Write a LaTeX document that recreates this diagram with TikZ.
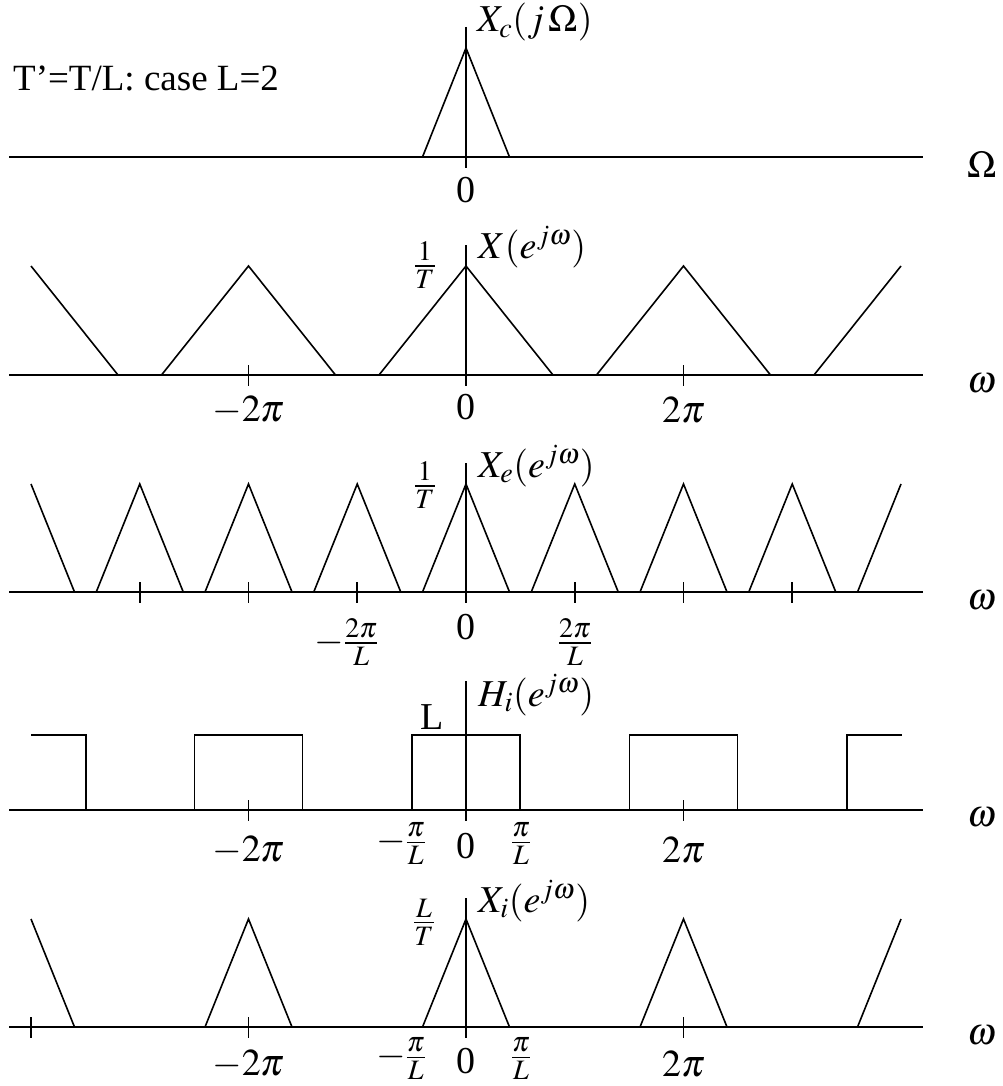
\documentclass[tikz,border=0pt]{standalone}
\usepackage{mathptmx}
\usepackage{fontspec}
\setmainfont{Liberation Serif}
\begin{document}
\begin{tikzpicture}[x=1pt,y=-1pt,
  lbl/.style={font=\fontsize{38}{42}\selectfont, inner sep=0pt},
  axisln/.style={line width=1.6pt},
  sig/.style={line width=1.6pt, line join=miter},
  tk/.style={line width=1.6pt}]
\useasboundingbox (0,0) rectangle (1003,1086);

% ---------- Panel 1 ----------
\draw[axisln] (9,157) -- (923,157);
\draw[axisln] (466,27) -- (466,168);
\draw[sig] (422.5,157) -- (466,48) -- (509.5,157);
\node[lbl, anchor=west, font=\fontsize{37}{42}\selectfont] (title) at (13,78) {T'=T/L: case L=2};
\node[lbl, anchor=base west] (xc) at (477,32) {$X_c(j\,\Omega)$};
\node[lbl] (z1) at (466,190) {0};
\node[lbl] (om1) at (982,165) {$\Omega$};

% ---------- Panel 2 ----------
\draw[axisln] (9,375) -- (923,375);
\draw[axisln] (466,245) -- (466,386);
\foreach \k in {-1,0,1}{
  \pgfmathsetmacro{\c}{466+\k*217.5}
  \draw[sig] (\c-87,375) -- (\c,266) -- (\c+87,375);
}
\draw[sig] (31,266) -- (118,375);
\draw[sig] (814,375) -- (901,266);
\foreach \t in {248.5,683.5}{ \draw[tk] (\t,365) -- (\t,386); }
\node[lbl] (m2p2) at (248.5,410) {$-2\pi$};
\node[lbl] (z2) at (466,407) {0};
\node[lbl] (p2p2) at (683.5,410) {$2\pi$};
\node[lbl] (h2) at (425,265) {$\frac{1}{T}$};
\node[lbl, anchor=base west] (x2) at (478,258) {$X(e^{j\omega})$};
\node[lbl] (om2) at (982,383) {$\omega$};

% ---------- Panel 3 ----------
\draw[axisln] (9,592) -- (923,592);
\draw[axisln] (466,463) -- (466,603);
\foreach \k in {-3,...,3}{
  \pgfmathsetmacro{\c}{466+\k*108.75}
  \draw[sig] (\c-43.5,592) -- (\c,484) -- (\c+43.5,592);
}
\draw[sig] (31,484) -- (74.5,592);
\draw[sig] (857.5,592) -- (901,484);
\foreach \t in {140,248.5,357,575,683.5,792}{ \draw[tk] (\t,582) -- (\t,603); }
\node[lbl] (m2pl) at (346.5,642) {$-\frac{2\pi}{L}$};
\node[lbl] (z3) at (466,627) {0};
\node[lbl] (p2pl) at (575,642) {$\frac{2\pi}{L}$};
\node[lbl] (h3) at (425,485) {$\frac{1}{T}$};
\node[lbl, anchor=base west] (x3) at (478,477) {$X_e(e^{j\omega})$};
\node[lbl] (om3) at (982,600) {$\omega$};

% ---------- Panel 4 ----------
\draw[axisln] (9,810) -- (923,810);
\draw[axisln] (466,681) -- (466,821);
\foreach \k in {-1,0,1}{
  \pgfmathsetmacro{\c}{466+\k*217.5}
  \draw[sig] (\c-54,810) -- (\c-54,735) -- (\c+54,735) -- (\c+54,810);
}
\draw[sig] (31,735) -- (86,735) -- (86,810);
\draw[sig] (847,810) -- (847,735) -- (902,735);
\foreach \t in {248.5,683.5}{ \draw[tk] (\t,800) -- (\t,821); }
\node[lbl] (m2p4) at (248.5,850) {$-2\pi$};
\node[lbl] (mpl4) at (401,844) {$-\frac{\pi}{L}$};
\node[lbl] (z4) at (466,846) {0};
\node[lbl] (ppl4) at (521,844) {$\frac{\pi}{L}$};
\node[lbl] (p2p4) at (683.5,850) {$2\pi$};
\node[lbl] (gain) at (432,717) {L};
\node[lbl, anchor=base west] (x4) at (478,706) {$H_i(e^{j\omega})$};
\node[lbl] (om4) at (982,817) {$\omega$};

% ---------- Panel 5 ----------
\draw[axisln] (9,1027) -- (923,1027);
\draw[axisln] (466,898) -- (466,1038);
\foreach \k in {-1,0,1}{
  \pgfmathsetmacro{\c}{466+\k*217.5}
  \draw[sig] (\c-43.5,1027) -- (\c,919) -- (\c+43.5,1027);
}
\draw[sig] (31,919) -- (74.5,1027);
\draw[sig] (857.5,1027) -- (901,919);
\foreach \t in {31,248.5,683.5}{ \draw[tk] (\t,1017) -- (\t,1038); }
\node[lbl] (m2p5) at (248.5,1064) {$-2\pi$};
\node[lbl] (mpl5) at (401,1059) {$-\frac{\pi}{L}$};
\node[lbl] (z5) at (466,1061) {0};
\node[lbl] (ppl5) at (521,1059) {$\frac{\pi}{L}$};
\node[lbl] (p2p5) at (683.5,1064) {$2\pi$};
\node[lbl] (h5) at (424,922) {$\frac{L}{T}$};
\node[lbl, anchor=base west] (x5) at (478,912) {$X_i(e^{j\omega})$};
\node[lbl] (om5) at (982,1035) {$\omega$};
\end{tikzpicture}
\end{document}
